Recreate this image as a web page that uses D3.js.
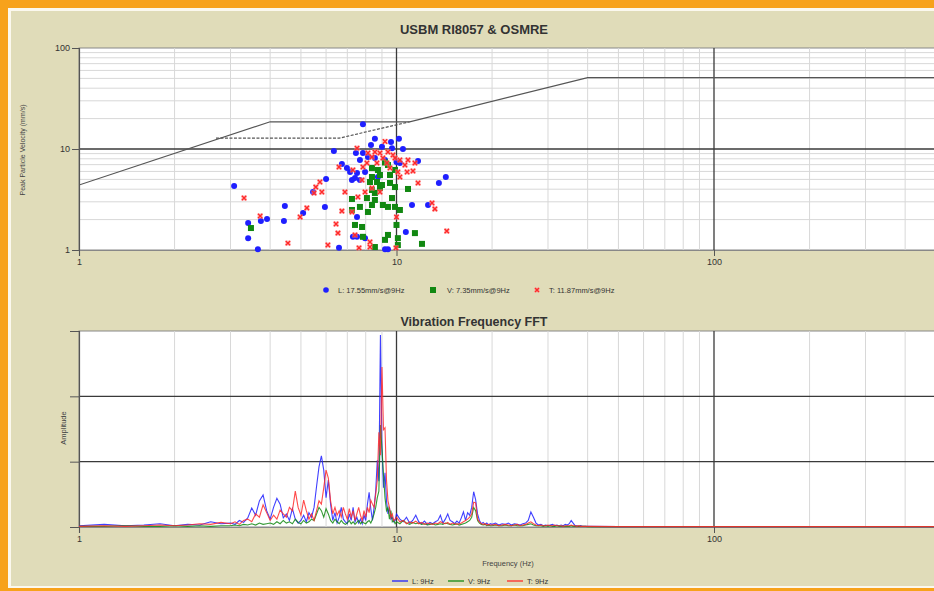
<!DOCTYPE html>
<html><head><meta charset="utf-8">
<script src="https://cdn.jsdelivr.net/npm/d3@7"></script>
<style>body{margin:0;background:#fff;} svg{display:block;}</style>
</head><body><svg id="c" width="934" height="591"></svg>
<script>
// ---------- DATA ----------
const topTitle = "USBM RI8057 & OSMRE";
const fftTitle = "Vibration Frequency FFT";
const topYLabel = "Peak Particle Velocity (mm/s)";
const fftYLabel = "Amplitude";
const fftXLabel = "Frequency (Hz)";
const xTickValues = [1, 10, 100];
const yTopTickValues = [1, 10, 100];
const yFftTickValues = [0, 1, 2, 3];
const scatterLegend = ["L: 17.55mm/s@9Hz", "V: 7.35mm/s@9Hz", "T: 11.87mm/s@9Hz"];
const fftLegend = ["L: 9Hz", "V: 9Hz", "T: 9Hz"];

// USBM RI8057 / OSMRE limit curves (Hz, mm/s)
const usbmSolidF = [1, 4, 11, 40, 500];
const usbmSolidV = [4.4, 18.6, 18.6, 50.8, 50.8];
const usbmDashF = [2.7, 6.6, 11];
const usbmDashV = [12.8, 12.8, 18.6];

// Scatter events: frequency (Hz) and PPV (mm/s)
const lFreq = [3.08,3.41,3.41,3.66,3.74,3.91,4.45,4.42,5.08,5.46,6.0,5.95,6.35,6.59,6.73,6.98,7.14,7.24,7.40,7.45,7.51,7.51,7.51,7.29,7.67,7.84,7.84,7.96,7.96,8.13,8.31,8.55,8.55,8.74,9.0,9.2,9.2,9.40,9.61,10.0,10.18,10.25,10.48,10.7,11.19,11.69,12.57,13.6,14.3,7.67,9.68];
const lPPV  = [4.3,1.85,1.31,1.02,1.94,2.03,2.73,1.94,2.32,3.75,5.05,2.67,9.55,1.05,7.1,6.49,5.92,4.93,5.16,9.13,5.79,2.12,1.35,1.35,4.93,17.55,9.13,5.92,1.31,8.33,10.96,12.6,8.15,5.28,10.5,7.78,1.02,1.02,11.7,7.43,12.6,7.27,10.0,1.51,2.79,7.61,2.79,4.61,5.28,7.78,10.2];
const vFreq = [3.48,7.24,7.24,7.40,7.67,7.79,7.84,8.07,8.13,8.25,8.37,8.37,8.37,8.37,8.55,8.55,8.55,8.68,8.74,8.87,8.87,9.0,9.06,9.2,9.40,9.40,9.40,9.54,9.54,9.68,9.89,9.89,9.89,10.0,10.1,10.1,10.25,10.87,11.43,12.03,9.2];
const vPPV  = [1.65,3.2,2.49,1.77,2.67,1.69,1.35,3.27,2.38,4.71,6.49,5.28,3.93,2.79,3.67,3.13,1.07,4.71,6.2,5.53,4.11,4.4,2.79,1.26,6.94,2.67,1.41,5.53,4.61,3.27,6.2,4.2,2.67,1.77,1.31,1.12,2.49,4.02,1.47,1.15,7.35];
const tFreq = [3.31,3.72,4.55,4.97,5.22,5.50,5.57,5.74,5.82,6.08,6.45,6.54,6.59,6.73,6.88,7.24,7.29,7.40,7.51,7.56,7.62,7.79,7.84,7.96,8.07,8.13,8.25,8.25,8.37,8.37,8.55,8.68,8.87,8.87,9.06,9.2,9.33,9.40,9.54,9.75,9.89,9.96,10.0,10.1,10.25,10.25,10.63,10.8,10.87,11.27,11.43,11.69,12.94,13.21,14.4];
const tPPV  = [3.27,2.17,1.17,2.12,2.61,3.67,4.2,4.71,3.75,1.12,1.81,1.47,6.63,2.43,3.75,2.38,6.2,1.41,10.2,3.35,1.05,4.93,6.63,3.75,7.27,9.13,1.2,1.07,8.33,4.11,9.34,7.27,9.13,3.75,8.15,11.87,7.27,9.34,6.49,8.72,8.15,1.05,2.12,5.92,7.78,5.28,6.94,5.92,7.78,6.06,7.27,4.61,2.92,2.55,1.54];

// FFT spectrum: frequency bins (Hz) and amplitudes
const fftFreq = [1.0,1.2,1.4,1.6,1.8,2.0,2.2,2.4,2.6,2.8,
 3.0,3.1,3.2,3.3,3.4,3.5,3.6,3.7,3.8,3.9,
 4.0,4.1,4.2,4.3,4.4,4.5,4.6,4.7,4.8,4.9,
 5.0,5.1,5.2,5.3,5.4,5.5,5.6,5.7,5.8,5.9,
 6.0,6.1,6.2,6.3,6.4,6.5,6.6,6.7,6.8,6.9,
 7.0,7.1,7.2,7.3,7.4,7.5,7.6,7.7,7.8,7.9,
 8.0,8.1,8.2,8.3,8.4,8.5,8.6,8.7,8.8,8.9,
 9.0,9.1,9.2,9.3,9.4,9.5,9.6,9.7,9.8,9.9,
 10.0,10.25,10.5,10.75,11.0,11.25,11.5,11.75,12.0,12.25,
 12.5,12.75,13.0,13.25,13.5,13.75,14.0,14.25,14.5,14.75,
 15.0,15.25,15.5,15.75,16.0,16.25,16.5,16.75,17.0,17.25,
 17.5,17.75,18.0,18.25,18.5,18.75,19.0,19.25,19.5,19.75,
 20,20.5,21,21.5,22,22.5,23,23.5,24,24.5,
 25,25.5,26,26.5,27,27.5,28,28.5,29,29.5,
 30,30.5,31,31.5,32,32.5,33,33.5,34,34.5,
 35,35.5,36,36.5,37,37.5,38,38.5,39,39.5,
 40,50,70,100,150,200,300,400,500];
const fftL = [0.02,0.04,0.02,0.03,0.05,0.02,0.04,0.03,0.08,0.05,
 0.06,0.04,0.10,0.07,0.14,0.29,0.18,0.40,0.49,0.25,
 0.12,0.30,0.44,0.35,0.14,0.20,0.10,0.28,0.12,0.06,
 0.10,0.18,0.08,0.22,0.15,0.30,0.62,0.92,1.09,0.87,
 0.45,0.72,0.35,0.10,0.22,0.06,0.15,0.30,0.12,0.08,
 0.05,0.20,0.10,0.30,0.08,0.15,0.06,0.12,0.05,0.18,
 0.10,0.35,0.53,0.28,0.10,0.30,0.55,1.02,0.70,2.94,
 1.20,0.60,0.83,0.40,0.20,0.30,0.12,0.15,0.08,0.10,
 0.20,0.12,0.08,0.15,0.06,0.10,0.18,0.08,0.05,0.09,
 0.04,0.07,0.05,0.08,0.10,0.18,0.06,0.12,0.20,0.10,
 0.08,0.05,0.09,0.06,0.14,0.23,0.10,0.22,0.18,0.30,
 0.54,0.42,0.20,0.10,0.05,0.07,0.04,0.06,0.03,0.05,
 0.04,0.06,0.03,0.05,0.04,0.06,0.03,0.05,0.04,0.03,
 0.05,0.06,0.10,0.23,0.15,0.06,0.03,0.04,0.02,0.03,
 0.02,0.03,0.04,0.02,0.03,0.02,0.03,0.02,0.04,0.03,
 0.05,0.10,0.06,0.02,0.02,0.01,0.02,0.01,0.01,0.01,
 0.01,0.005,0.005,0.004,0.004,0.003,0.003,0.003,0.003];
const fftV = [0.01,0.01,0.02,0.01,0.01,0.02,0.01,0.02,0.01,0.02,
 0.02,0.03,0.02,0.04,0.03,0.05,0.03,0.06,0.04,0.05,
 0.06,0.04,0.08,0.05,0.10,0.06,0.08,0.05,0.12,0.07,
 0.05,0.10,0.06,0.08,0.12,0.10,0.20,0.30,0.25,0.15,
 0.28,0.20,0.10,0.06,0.12,0.08,0.05,0.10,0.06,0.04,
 0.06,0.10,0.05,0.08,0.04,0.07,0.10,0.05,0.08,0.06,
 0.05,0.08,0.10,0.06,0.12,0.20,0.30,0.45,0.55,1.56,
 1.20,0.80,0.45,0.25,0.30,0.12,0.25,0.08,0.10,0.05,
 0.08,0.05,0.10,0.06,0.04,0.07,0.05,0.06,0.04,0.05,
 0.03,0.04,0.05,0.03,0.04,0.05,0.04,0.06,0.05,0.04,
 0.03,0.04,0.05,0.03,0.04,0.05,0.06,0.08,0.10,0.15,
 0.30,0.25,0.10,0.06,0.04,0.03,0.04,0.02,0.03,0.02,
 0.02,0.03,0.02,0.02,0.03,0.02,0.02,0.03,0.02,0.02,
 0.02,0.03,0.04,0.05,0.03,0.02,0.02,0.02,0.01,0.02,
 0.01,0.02,0.01,0.01,0.02,0.01,0.01,0.01,0.01,0.01,
 0.01,0.02,0.01,0.01,0.01,0.01,0.01,0.01,0.01,0.01,
 0.005,0.005,0.005,0.005,0.005,0.005,0.005,0.005,0.005];
const fftT = [0.01,0.02,0.01,0.02,0.03,0.02,0.03,0.05,0.04,0.07,
 0.05,0.08,0.04,0.10,0.12,0.08,0.20,0.15,0.34,0.22,
 0.10,0.18,0.12,0.26,0.20,0.15,0.30,0.25,0.55,0.30,
 0.18,0.41,0.25,0.12,0.20,0.10,0.25,0.40,0.35,0.60,
 0.87,0.75,0.40,0.20,0.30,0.18,0.25,0.15,0.30,0.20,
 0.12,0.28,0.15,0.25,0.10,0.20,0.30,0.18,0.10,0.25,
 0.15,0.30,0.22,0.41,0.35,0.30,0.50,0.72,1.45,1.10,
 2.45,1.49,1.52,0.72,0.40,0.30,0.15,0.20,0.10,0.12,
 0.15,0.08,0.10,0.05,0.08,0.06,0.09,0.05,0.07,0.04,
 0.06,0.05,0.04,0.06,0.05,0.08,0.06,0.05,0.07,0.04,
 0.06,0.05,0.04,0.05,0.06,0.08,0.10,0.12,0.15,0.20,
 0.38,0.37,0.12,0.08,0.05,0.04,0.05,0.03,0.04,0.03,
 0.03,0.04,0.02,0.03,0.04,0.03,0.02,0.03,0.04,0.02,
 0.03,0.04,0.06,0.08,0.05,0.03,0.02,0.03,0.02,0.02,
 0.03,0.02,0.02,0.03,0.02,0.02,0.02,0.01,0.02,0.02,
 0.02,0.03,0.02,0.02,0.01,0.02,0.01,0.01,0.01,0.01,
 0.01,0.006,0.006,0.005,0.005,0.005,0.005,0.005,0.005];

// ---------- STYLE / LAYOUT ----------
const W = 934, H = 591;
const COL = {orange:"#f7a21b", panel:"#e0dcb9", blue:"#1f1fff", green:"#118811", red:"#ff2a2a",
  minor:"#d8d8d8", major:"#3a3a3a", text:"#333", curve:"#555"};
const FONT = "'Liberation Sans', Arial, sans-serif";
const plotL = 79, decadePx = 317.5;
const svg = d3.select("#c");

svg.append("rect").attr("width", W).attr("height", H).attr("fill", COL.orange);
svg.append("rect").attr("x", 8).attr("y", 8).attr("width", W).attr("height", 580).attr("fill", "#fbf8ee");
svg.append("rect").attr("x", 11).attr("y", 11).attr("width", W).attr("height", 575).attr("fill", COL.panel);

const x = d3.scaleLog().domain([1, 500]).range([plotL, plotL + Math.log10(500) * decadePx]);
const yTop = d3.scaleLog().domain([1, 100]).range([250, 48]);
const yFft = d3.scaleLinear().domain([0, 3]).range([527, 331]);

function drawFrame(yScale, majorY, minorY) {
  const [y0, y1] = yScale.range();
  const g = svg.append("g");
  g.append("rect").attr("x", plotL).attr("y", y1).attr("width", x.range()[1] - plotL).attr("height", y0 - y1)
    .attr("fill", "#fff").attr("stroke", "#888").attr("stroke-width", 1);
  g.selectAll(".vmin").data(x.ticks().filter(v => !xTickValues.includes(v))).join("line")
    .attr("x1", d => x(d)).attr("x2", d => x(d)).attr("y1", y1).attr("y2", y0)
    .attr("stroke", COL.minor).attr("stroke-width", 1);
  g.selectAll(".hmin").data(minorY).join("line")
    .attr("x1", plotL).attr("x2", x.range()[1]).attr("y1", d => yScale(d)).attr("y2", d => yScale(d))
    .attr("stroke", COL.minor).attr("stroke-width", 1);
  g.selectAll(".vmaj").data(xTickValues.slice(1)).join("line")
    .attr("x1", d => x(d)).attr("x2", d => x(d)).attr("y1", y1).attr("y2", y0)
    .attr("stroke", COL.major).attr("stroke-width", 1.3);
  g.selectAll(".hmaj").data(majorY).join("line")
    .attr("x1", plotL).attr("x2", x.range()[1]).attr("y1", d => yScale(d)).attr("y2", d => yScale(d))
    .attr("stroke", COL.major).attr("stroke-width", 1.3);
  return g;
}

function styleAxis(g) {
  g.selectAll("path.domain").attr("stroke", "#555").attr("stroke-width", 1.2);
  g.selectAll(".tick line").attr("stroke", "#555");
  g.selectAll("text").attr("fill", COL.text).style("font-family", FONT).style("font-size", "9px");
}

// ---------- TOP: scatter ----------
svg.append("text").attr("x", 474).attr("y", 34).attr("text-anchor", "middle")
  .style("font-family", FONT).style("font-size", "13px").style("font-weight", "bold").attr("fill", "#333")
  .text(topTitle);

drawFrame(yTop, [10], yTop.ticks().filter(v => !yTopTickValues.includes(v)));

svg.append("g").attr("transform", `translate(${plotL},0)`)
  .call(d3.axisLeft(yTop).tickValues(yTopTickValues).tickFormat(d3.format("d")).tickSize(7).tickPadding(2))
  .call(styleAxis);
svg.append("g").attr("transform", `translate(0,250)`)
  .call(d3.axisBottom(x).tickValues(xTickValues).tickFormat(d3.format("d")).tickSize(6).tickPadding(3))
  .call(styleAxis).call(g => g.select("path.domain").attr("stroke", "#888"));

svg.append("text").attr("transform", "translate(25,150) rotate(-90)").attr("text-anchor", "middle")
  .style("font-family", FONT).style("font-size", "7px").attr("fill", "#444").text(topYLabel);

const line = d3.line().x(d => x(d[0])).y(d => yTop(d[1]));
svg.append("clipPath").attr("id", "clipTop").append("rect")
  .attr("x", plotL).attr("y", 48).attr("width", x.range()[1] - plotL).attr("height", 202);
svg.append("path").datum(usbmSolidF.map((f, i) => [f, usbmSolidV[i]])).attr("d", line)
  .attr("fill", "none").attr("stroke", COL.curve).attr("stroke-width", 1.2).attr("clip-path", "url(#clipTop)");
svg.append("path").datum(usbmDashF.map((f, i) => [f, usbmDashV[i]])).attr("d", line)
  .attr("fill", "none").attr("stroke", COL.curve).attr("stroke-width", 1.2).attr("stroke-dasharray", "3,1.5");

const pts = svg.append("g");
pts.selectAll(".l").data(lFreq.map((f, i) => [f, lPPV[i]])).join("circle")
  .attr("cx", d => x(d[0])).attr("cy", d => yTop(d[1])).attr("r", 3).attr("fill", COL.blue);
pts.selectAll(".v").data(vFreq.map((f, i) => [f, vPPV[i]])).join("rect")
  .attr("x", d => x(d[0]) - 3).attr("y", d => yTop(d[1]) - 3).attr("width", 6).attr("height", 6).attr("fill", COL.green);
function cross(g, cx, cy, s) {
  g.append("rect").attr("x", cx - s - 0.5).attr("y", cy - s - 0.5).attr("width", 2 * s + 1).attr("height", 2 * s + 1)
    .attr("fill", "#ff9a9a").attr("opacity", 0.55);
  g.append("path").attr("d", `M${cx - s},${cy - s}L${cx + s},${cy + s}M${cx - s},${cy + s}L${cx + s},${cy - s}`)
    .attr("stroke", COL.red).attr("stroke-width", 1.5);
}
tFreq.forEach((f, i) => cross(pts, x(f), yTop(tPPV[i]), 2.2));

// scatter legend
const lg1 = svg.append("g").style("font-family", FONT).style("font-size", "7.5px").attr("fill", "#333");
lg1.append("circle").attr("cx", 326).attr("cy", 290).attr("r", 2.8).attr("fill", COL.blue);
lg1.append("text").attr("x", 338).attr("y", 293).text(scatterLegend[0]);
lg1.append("rect").attr("x", 430).attr("y", 287).attr("width", 6).attr("height", 6).attr("fill", COL.green);
lg1.append("text").attr("x", 447).attr("y", 293).text(scatterLegend[1]);
cross(lg1, 537, 290, 2);
lg1.append("text").attr("x", 549).attr("y", 293).text(scatterLegend[2]);

// ---------- BOTTOM: FFT ----------
svg.append("text").attr("x", 474).attr("y", 326).attr("text-anchor", "middle")
  .style("font-family", FONT).style("font-size", "12.5px").style("font-weight", "bold").attr("fill", "#333")
  .text(fftTitle);

drawFrame(yFft, [1, 2], []);

svg.append("g").attr("transform", `translate(${plotL},0)`)
  .call(d3.axisLeft(yFft).tickValues(yFftTickValues.slice(0, 3)).tickFormat("").tickSize(9))
  .call(styleAxis);
svg.append("g").attr("transform", `translate(0,527)`)
  .call(d3.axisBottom(x).tickValues(xTickValues).tickFormat(d3.format("d")).tickSize(6).tickPadding(3))
  .call(styleAxis).call(g => g.select("path.domain").attr("stroke", "#888"));

svg.append("text").attr("transform", "translate(66,428) rotate(-90)").attr("text-anchor", "middle")
  .style("font-family", FONT).style("font-size", "7.5px").attr("fill", "#444").text(fftYLabel);
svg.append("text").attr("x", 508).attr("y", 566).attr("text-anchor", "middle")
  .style("font-family", FONT).style("font-size", "7.5px").attr("fill", "#444").text(fftXLabel);

const fline = d3.line().x(d => x(d[0])).y(d => yFft(d[1]));
[[fftL, COL.blue], [fftV, COL.green], [fftT, COL.red]].forEach(([arr, c]) => {
  svg.append("path").datum(fftFreq.map((f, i) => [f, arr[i]])).attr("d", fline)
    .attr("fill", "none").attr("stroke", c).attr("stroke-width", 1.1).attr("stroke-opacity", 0.85);
});

// FFT legend
const lg2 = svg.append("g").style("font-family", FONT).style("font-size", "7.5px").attr("fill", "#333");
[[392, 412, COL.blue, fftLegend[0]], [448, 468, COL.green, fftLegend[1]], [507, 527, COL.red, fftLegend[2]]]
  .forEach(([lx, tx, c, t]) => {
    lg2.append("line").attr("x1", lx).attr("x2", lx + 16).attr("y1", 581).attr("y2", 581).attr("stroke", c).attr("stroke-width", 1.3);
    lg2.append("text").attr("x", tx).attr("y", 584).text(t);
  });
</script></body></html>
